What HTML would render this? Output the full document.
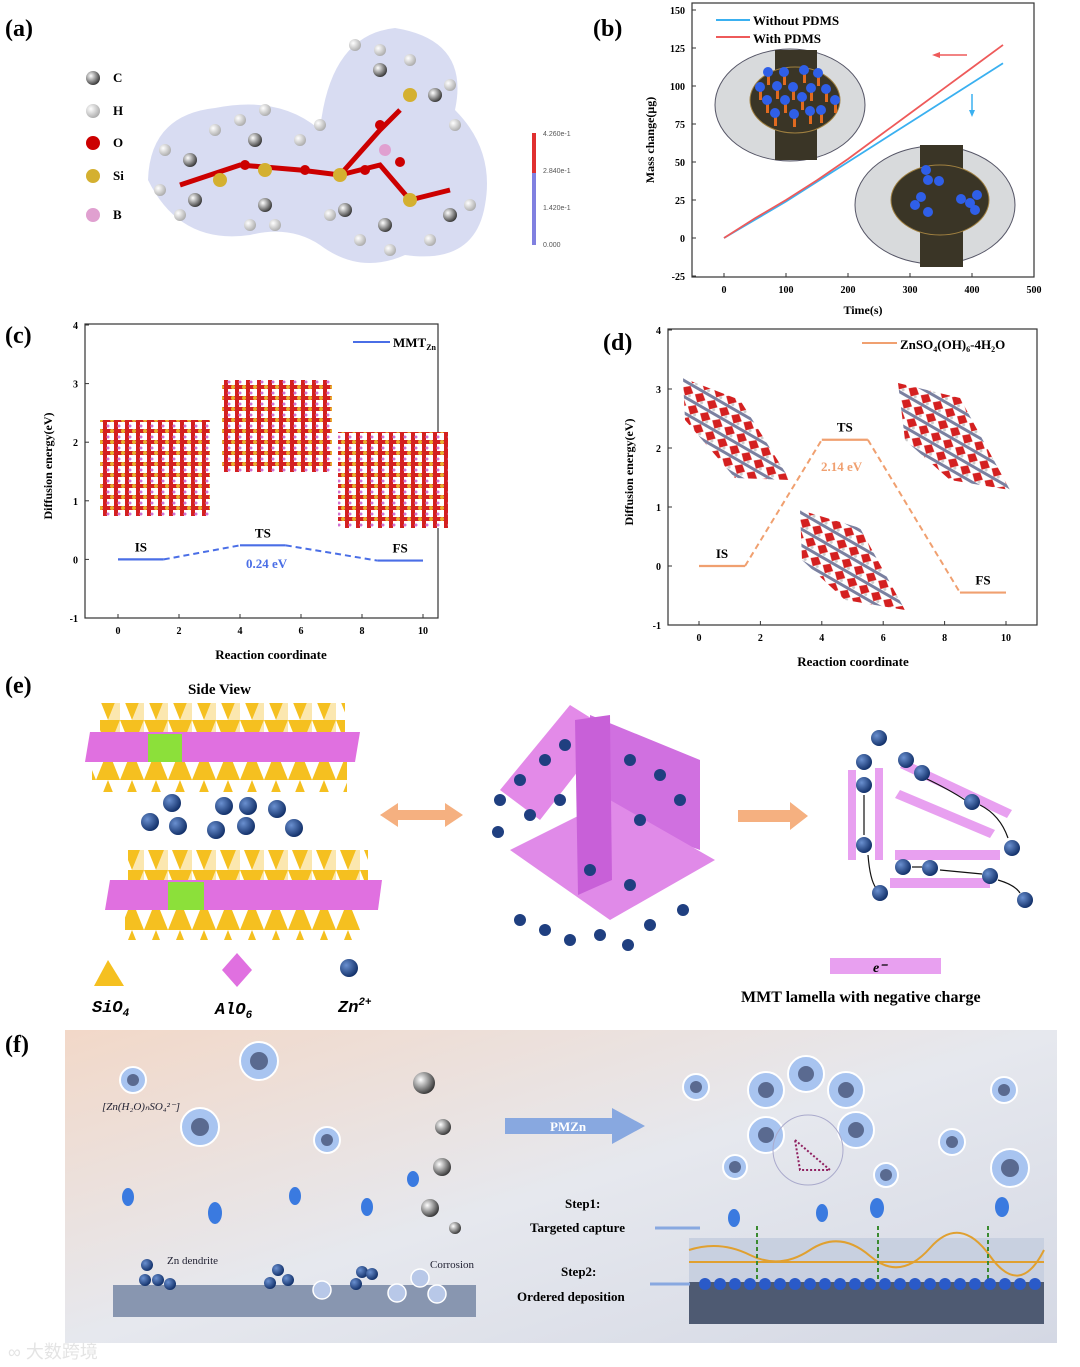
<!DOCTYPE html>
<html><head><meta charset="utf-8"><style>
html,body{margin:0;padding:0;background:#fff;}
svg{display:block;font-family:"Liberation Serif",serif;}
</style></head><body>
<svg id="fig" width="1080" height="1367" viewBox="0 0 1080 1367" xmlns="http://www.w3.org/2000/svg">
<defs>
<pattern id="mmt" width="11" height="11" patternUnits="userSpaceOnUse">
<rect width="11" height="11" fill="#fff"/>
<rect x="0" y="0" width="11" height="4" fill="#d42020"/>
<rect x="4" y="0" width="4" height="11" fill="#d42020"/>
<circle cx="2" cy="2" r="2" fill="#e8b030"/>
<circle cx="9" cy="8" r="1.5" fill="#d070d0"/>
</pattern>
<pattern id="zso" width="14" height="14" patternUnits="userSpaceOnUse" patternTransform="rotate(30)">
<rect width="14" height="14" fill="#fff"/>
<rect x="0" y="0" width="14" height="3" fill="#7a80a0"/>
<polygon points="7,3 13,8 7,14 1,8" fill="#d42020"/>
<circle cx="11" cy="12" r="1.5" fill="#ccc"/>
</pattern>
<pattern id="tri" width="24" height="30" patternUnits="userSpaceOnUse">
<polygon points="0,0 24,0 12,30" fill="#f5c020"/>
<polygon points="12,30 24,0 24,30" fill="#f8d060" opacity="0.5"/>
</pattern>
<pattern id="tri2" width="24" height="30" patternUnits="userSpaceOnUse">
<polygon points="12,0 24,30 0,30" fill="#f5c020"/>
</pattern>
<linearGradient id="fbg" x1="0" y1="0" x2="1" y2="1">
<stop offset="0" stop-color="#f2d8c8"/><stop offset="0.5" stop-color="#e6e8ee"/><stop offset="1" stop-color="#d4d8e4"/>
</linearGradient>
<radialGradient id="ball" cx="0.35" cy="0.35" r="0.7">
<stop offset="0" stop-color="#6a90d0"/><stop offset="1" stop-color="#0f2d66"/>
</radialGradient>
<radialGradient id="gball" cx="0.35" cy="0.35" r="0.7">
<stop offset="0" stop-color="#fff"/><stop offset="1" stop-color="#333"/>
</radialGradient>
<radialGradient id="hball" cx="0.35" cy="0.35" r="0.7">
<stop offset="0" stop-color="#fff"/><stop offset="1" stop-color="#aaa"/>
</radialGradient>
</defs>

<g font-weight="bold" font-size="24">
<text x="5" y="36">(a)</text>
<text x="593" y="36">(b)</text>
<text x="5" y="343">(c)</text>
<text x="603" y="350">(d)</text>
<text x="5" y="693">(e)</text>
<text x="5" y="1052">(f)</text>
</g>

<!-- panel a -->
<g>
<g font-size="13" font-weight="bold">
<circle cx="93" cy="78" r="7" fill="url(#gball)"/><text x="113" y="82">C</text>
<circle cx="93" cy="111" r="7" fill="url(#hball)"/><text x="113" y="115">H</text>
<circle cx="93" cy="143" r="7" fill="#c00"/><text x="113" y="147">O</text>
<circle cx="93" cy="176" r="7" fill="#d4b030"/><text x="113" y="180">Si</text>
<circle cx="93" cy="215" r="7" fill="#e0a0d0"/><text x="113" y="219">B</text>
</g>
<path d="M148,180 Q150,115 215,108 Q280,95 320,130 Q330,35 395,28 Q470,40 455,110 Q495,150 485,205 Q475,265 405,255 Q360,275 320,245 Q290,225 250,235 Q180,245 148,180Z" fill="#b8c0e8" opacity="0.55"/>
<path d="M180,185 L240,165 L300,170 L340,175 L380,130 L400,110 M340,175 L380,165 L410,200 L450,190" stroke="#c00" stroke-width="5" fill="none"/>
<g fill="url(#hball)"><circle cx="165" cy="150" r="6"/><circle cx="160" cy="190" r="6"/><circle cx="180" cy="215" r="6"/><circle cx="215" cy="130" r="6"/><circle cx="240" cy="120" r="6"/><circle cx="265" cy="110" r="6"/><circle cx="300" cy="140" r="6"/><circle cx="250" cy="225" r="6"/><circle cx="275" cy="225" r="6"/><circle cx="355" cy="45" r="6"/><circle cx="380" cy="50" r="6"/><circle cx="410" cy="60" r="6"/><circle cx="450" cy="85" r="6"/><circle cx="455" cy="125" r="6"/><circle cx="360" cy="240" r="6"/><circle cx="390" cy="250" r="6"/><circle cx="430" cy="240" r="6"/><circle cx="470" cy="205" r="6"/><circle cx="330" cy="215" r="6"/><circle cx="320" cy="125" r="6"/></g>
<g fill="url(#gball)"><circle cx="190" cy="160" r="7"/><circle cx="195" cy="200" r="7"/><circle cx="255" cy="140" r="7"/><circle cx="265" cy="205" r="7"/><circle cx="380" cy="70" r="7"/><circle cx="435" cy="95" r="7"/><circle cx="385" cy="225" r="7"/><circle cx="450" cy="215" r="7"/><circle cx="345" cy="210" r="7"/></g>
<g fill="#d4b030"><circle cx="220" cy="180" r="7"/><circle cx="265" cy="170" r="7"/><circle cx="340" cy="175" r="7"/><circle cx="410" cy="95" r="7"/><circle cx="410" cy="200" r="7"/></g>
<g fill="#c00"><circle cx="245" cy="165" r="5"/><circle cx="305" cy="170" r="5"/><circle cx="365" cy="170" r="5"/><circle cx="380" cy="125" r="5"/><circle cx="400" cy="162" r="5"/></g>
<circle cx="385" cy="150" r="6" fill="#e0a0d0"/>
<rect x="532" y="133" width="4" height="112" fill="#8080e0"/>
<rect x="532" y="133" width="4" height="40" fill="#e03030"/>
<g font-size="7" font-family="Liberation Sans,sans-serif" fill="#555"><text x="543" y="136">4.260e-1</text><text x="543" y="173">2.840e-1</text><text x="543" y="210">1.420e-1</text><text x="543" y="247">0.000</text></g>
</g>

<!-- panel b -->
<g id="pb">
<rect x="692" y="3" width="342" height="274" fill="none" stroke="#333" stroke-width="1.2"/>
<text transform="translate(654,140) rotate(-90)" text-anchor="middle" font-size="12" font-weight="bold">Mass change(μg)</text>
<text x="863" y="314" text-anchor="middle" font-size="12" font-weight="bold">Time(s)</text>
<line x1="716" y1="20" x2="750" y2="20" stroke="#3ab0f0" stroke-width="2"/>
<text x="753" y="25" font-size="13" font-weight="bold">Without PDMS</text>
<line x1="716" y1="37" x2="750" y2="37" stroke="#ee5a5a" stroke-width="2"/>
<text x="753" y="43" font-size="13" font-weight="bold">With PDMS</text>
<g>
<ellipse cx="790" cy="105" rx="75" ry="56" fill="#d8dadc" stroke="#556" />
<rect x="775" y="50" width="42" height="110" fill="#3a3526"/>
<ellipse cx="795" cy="100" rx="45" ry="33" fill="#3a3526" stroke="#a08040"/>
<g fill="#e06a20"><rect x="767" y="75" width="3" height="10"/><rect x="783" y="75" width="3" height="10"/><rect x="803" y="73" width="3" height="10"/><rect x="817" y="76" width="3" height="10"/><rect x="759" y="90" width="3" height="10"/><rect x="776" y="89" width="3" height="10"/><rect x="792" y="90" width="3" height="10"/><rect x="810" y="91" width="3" height="10"/><rect x="825" y="92" width="3" height="10"/><rect x="766" y="103" width="3" height="10"/><rect x="784" y="103" width="3" height="10"/><rect x="801" y="100" width="3" height="10"/><rect x="834" y="103" width="3" height="10"/><rect x="774" y="116" width="3" height="10"/><rect x="793" y="117" width="3" height="10"/><rect x="809" y="114" width="3" height="10"/><rect x="820" y="113" width="3" height="10"/></g>
<g fill="#2f5fe8"><circle cx="768" cy="72" r="5"/><circle cx="784" cy="72" r="5"/><circle cx="804" cy="70" r="5"/><circle cx="818" cy="73" r="5"/><circle cx="760" cy="87" r="5"/><circle cx="777" cy="86" r="5"/><circle cx="793" cy="87" r="5"/><circle cx="811" cy="88" r="5"/><circle cx="826" cy="89" r="5"/><circle cx="767" cy="100" r="5"/><circle cx="785" cy="100" r="5"/><circle cx="802" cy="97" r="5"/><circle cx="835" cy="100" r="5"/><circle cx="775" cy="113" r="5"/><circle cx="794" cy="114" r="5"/><circle cx="810" cy="111" r="5"/><circle cx="821" cy="110" r="5"/></g>
</g>
<g>
<ellipse cx="935" cy="205" rx="80" ry="59" fill="#d8dadc" stroke="#556"/>
<rect x="920" y="145" width="43" height="122" fill="#3a3526"/>
<ellipse cx="940" cy="200" rx="49" ry="35" fill="#3a3526" stroke="#a08040"/>
<g fill="#2f5fe8"><circle cx="926" cy="170" r="5"/><circle cx="928" cy="180" r="5"/><circle cx="939" cy="181" r="5"/><circle cx="915" cy="205" r="5"/><circle cx="921" cy="197" r="5"/><circle cx="928" cy="212" r="5"/><circle cx="961" cy="199" r="5"/><circle cx="970" cy="203" r="5"/><circle cx="977" cy="195" r="5"/><circle cx="975" cy="210" r="5"/></g>
</g>
<line x1="967" y1="55" x2="935" y2="55" stroke="#ee5a5a" stroke-width="1.5"/><polygon points="932,55 940,52 940,58" fill="#ee5a5a"/>
<line x1="972" y1="94" x2="972" y2="114" stroke="#3ab0f0" stroke-width="1.5"/><polygon points="972,117 969,110 975,110" fill="#3ab0f0"/>
</g>

<!-- panel c -->
<g id="pc">
<rect x="85" y="324" width="353" height="294" fill="none" stroke="#333" stroke-width="1.2"/>
<text transform="translate(52,466) rotate(-90)" text-anchor="middle" font-size="12" font-weight="bold">Diffusion energy(eV)</text>
<text x="271" y="659" text-anchor="middle" font-size="13" font-weight="bold">Reaction coordinate</text>
<line x1="353" y1="342" x2="390" y2="342" stroke="#4a6ee6" stroke-width="2"/>
<text x="393" y="347" font-size="13" font-weight="bold">MMT<tspan font-size="8" dy="3">Zn</tspan></text>
<rect x="100" y="420" width="110" height="96" fill="url(#mmt)"/>
<rect x="222" y="380" width="110" height="92" fill="url(#mmt)"/>
<rect x="338" y="432" width="110" height="96" fill="url(#mmt)"/>
<text x="246" y="568" fill="#4a6ee6" font-size="13" font-weight="bold">0.24 eV</text>
</g>

<!-- panel d -->
<g id="pd">
<rect x="668" y="329" width="369" height="296" fill="none" stroke="#333" stroke-width="1.2"/>
<text transform="translate(633,472) rotate(-90)" text-anchor="middle" font-size="12" font-weight="bold">Diffusion energy(eV)</text>
<text x="853" y="666" text-anchor="middle" font-size="13" font-weight="bold">Reaction coordinate</text>
<line x1="862" y1="343" x2="897" y2="343" stroke="#f0a070" stroke-width="2"/>
<text x="900" y="349" font-size="13" font-weight="bold">ZnSO<tspan font-size="8" dy="3">4</tspan><tspan dy="-3">(OH)</tspan><tspan font-size="8" dy="3">6</tspan><tspan dy="-3">-4H</tspan><tspan font-size="8" dy="3">2</tspan><tspan dy="-3">O</tspan></text>
<polygon points="683,378 740,400 790,480 735,478 685,420" fill="url(#zso)"/>
<polygon points="898,383 960,398 1010,490 950,480 905,440" fill="url(#zso)"/>
<polygon points="800,510 860,528 905,610 845,600 802,560" fill="url(#zso)"/>
<text x="821" y="471" fill="#f0a070" font-size="13" font-weight="bold">2.14 eV</text>
</g>

<!-- panel e -->
<g>
<text x="188" y="694" font-size="15" font-weight="bold">Side View</text>
<g>
<rect x="100" y="703" width="245" height="30" fill="url(#tri)"/>
<polygon points="90,732 360,732 355,762 85,762" fill="#e070e0"/>
<rect x="148" y="734" width="34" height="28" fill="#8ce03a"/>
<rect x="92" y="762" width="255" height="30" fill="url(#tri2)"/>
</g>
<g>
<rect x="128" y="850" width="240" height="30" fill="url(#tri)"/>
<polygon points="110,880 382,880 378,910 105,910" fill="#e070e0"/>
<rect x="168" y="882" width="36" height="28" fill="#8ce03a"/>
<rect x="125" y="910" width="235" height="30" fill="url(#tri2)"/>
</g>
<g fill="url(#ball)">
<circle cx="172" cy="803" r="9"/><circle cx="224" cy="806" r="9"/><circle cx="248" cy="806" r="9"/><circle cx="277" cy="809" r="9"/><circle cx="150" cy="822" r="9"/><circle cx="178" cy="826" r="9"/><circle cx="216" cy="830" r="9"/><circle cx="246" cy="826" r="9"/><circle cx="294" cy="828" r="9"/>
</g>
<polygon points="380,815 398,803 398,810 445,810 445,803 463,815 445,827 445,820 398,820 398,827" fill="#f5b080"/>
<g>
<polygon points="500,790 570,705 610,730 540,820" fill="#e38ae8"/>
<polygon points="590,715 700,760 700,850 590,810" fill="#d070e0"/>
<polygon points="510,850 610,800 715,860 610,920" fill="#e08ae8"/>
<polygon points="575,720 610,715 612,880 578,895" fill="#c860d8"/>
<g fill="#1f3f80"><circle cx="520" cy="780" r="6"/><circle cx="545" cy="760" r="6"/><circle cx="565" cy="745" r="6"/><circle cx="530" cy="815" r="6"/><circle cx="560" cy="800" r="6"/><circle cx="630" cy="760" r="6"/><circle cx="660" cy="775" r="6"/><circle cx="680" cy="800" r="6"/><circle cx="640" cy="820" r="6"/><circle cx="520" cy="920" r="6"/><circle cx="545" cy="930" r="6"/><circle cx="570" cy="940" r="6"/><circle cx="600" cy="935" r="6"/><circle cx="628" cy="945" r="6"/><circle cx="650" cy="925" r="6"/><circle cx="683" cy="910" r="6"/><circle cx="590" cy="870" r="6"/><circle cx="630" cy="885" r="6"/><circle cx="500" cy="800" r="6"/><circle cx="498" cy="832" r="6"/></g>
</g>
<polygon points="738,810 790,810 790,802 808,816 790,830 790,822 738,822" fill="#f5b080"/>
<g>
<rect x="848" y="770" width="8" height="90" fill="#e8a0f0"/><rect x="875" y="768" width="8" height="92" fill="#e8a0f0"/>
<polygon points="905,760 1012,810 1007,818 900,768" fill="#e8a0f0"/>
<polygon points="900,790 995,830 990,838 895,798" fill="#e8a0f0"/>
<rect x="895" y="850" width="105" height="10" fill="#e8a0f0"/><rect x="890" y="878" width="100" height="10" fill="#e8a0f0"/>
<g stroke="#111" stroke-width="1.2" fill="none"><line x1="864" y1="795" x2="864" y2="835"/><path d="M925,778 Q950,790 965,800"/><path d="M980,805 Q1000,815 1008,838"/><path d="M912,867 L922,867"/><path d="M940,870 L982,874"/><path d="M998,880 Q1015,885 1020,893"/><path d="M868,855 Q870,880 876,888"/></g>
<g fill="url(#ball)"><circle cx="879" cy="738" r="8"/><circle cx="864" cy="762" r="8"/><circle cx="864" cy="785" r="8"/><circle cx="864" cy="845" r="8"/><circle cx="880" cy="893" r="8"/><circle cx="906" cy="760" r="8"/><circle cx="922" cy="773" r="8"/><circle cx="972" cy="802" r="8"/><circle cx="1012" cy="848" r="8"/><circle cx="903" cy="867" r="8"/><circle cx="930" cy="868" r="8"/><circle cx="990" cy="876" r="8"/><circle cx="1025" cy="900" r="8"/></g>
<rect x="830" y="958" width="111" height="16" fill="#e8a0f0"/>
<text x="873" y="972" font-size="14" font-style="italic" font-weight="bold">e⁻</text>
<text x="741" y="1002" font-size="16" font-weight="bold">MMT lamella with negative charge</text>
</g>
<g>
<polygon points="108,960 94,986 124,986" fill="#f5c020"/>
<polygon points="237,953 252,970 237,987 222,970" fill="#e070e0"/>
<circle cx="349" cy="968" r="9" fill="url(#ball)"/>
<g font-size="17" font-weight="bold" font-style="italic" font-family="Liberation Mono,monospace">
<text x="92" y="1012">SiO<tspan font-size="11" dy="4">4</tspan></text>
<text x="215" y="1014">AlO<tspan font-size="11" dy="4">6</tspan></text>
<text x="338" y="1012">Zn<tspan font-size="11" dy="-7">2+</tspan></text>
</g>
</g>
</g>

<!-- panel f -->
<g>
<rect x="65" y="1030" width="992" height="313" fill="url(#fbg)"/>
<rect x="113" y="1285" width="363" height="32" fill="#8896b0"/>
<rect x="689" y="1238" width="355" height="86" fill="#4e5a72"/>
<rect x="689" y="1238" width="355" height="44" fill="#c8d0e0"/>
<path d="M689,1250 Q720,1240 750,1255 T810,1250 T870,1256 T930,1248 T990,1256 T1044,1250" stroke="#e0a030" stroke-width="2" fill="none"/>
<line x1="689" y1="1262" x2="1044" y2="1262" stroke="#e0a030" stroke-width="2"/>
<g stroke="#3a8a30" stroke-width="2" stroke-dasharray="4,3"><line x1="757" y1="1226" x2="757" y2="1280"/><line x1="878" y1="1226" x2="878" y2="1280"/><line x1="988" y1="1226" x2="988" y2="1280"/></g>
<g fill="#2a5ac8"><circle cx="705" cy="1284" r="6"/><circle cx="720" cy="1284" r="6"/><circle cx="735" cy="1284" r="6"/><circle cx="750" cy="1284" r="6"/><circle cx="765" cy="1284" r="6"/><circle cx="780" cy="1284" r="6"/><circle cx="795" cy="1284" r="6"/><circle cx="810" cy="1284" r="6"/><circle cx="825" cy="1284" r="6"/><circle cx="840" cy="1284" r="6"/><circle cx="855" cy="1284" r="6"/><circle cx="870" cy="1284" r="6"/><circle cx="885" cy="1284" r="6"/><circle cx="900" cy="1284" r="6"/><circle cx="915" cy="1284" r="6"/><circle cx="930" cy="1284" r="6"/><circle cx="945" cy="1284" r="6"/><circle cx="960" cy="1284" r="6"/><circle cx="975" cy="1284" r="6"/><circle cx="990" cy="1284" r="6"/><circle cx="1005" cy="1284" r="6"/><circle cx="1020" cy="1284" r="6"/><circle cx="1035" cy="1284" r="6"/></g>
<g fill="#a8c4f0" stroke="#fff" stroke-width="2"><circle cx="133" cy="1080" r="13"/><circle cx="259" cy="1061" r="19"/><circle cx="200" cy="1127" r="19"/><circle cx="327" cy="1140" r="13"/><circle cx="696" cy="1087" r="13"/><circle cx="1004" cy="1090" r="13"/><circle cx="1010" cy="1168" r="19"/><circle cx="952" cy="1142" r="13"/><circle cx="766" cy="1090" r="18"/><circle cx="806" cy="1074" r="18"/><circle cx="846" cy="1090" r="18"/><circle cx="766" cy="1135" r="18"/><circle cx="856" cy="1130" r="18"/><circle cx="886" cy="1175" r="12"/><circle cx="735" cy="1167" r="12"/></g>
<g fill="#5a6a90"><circle cx="133" cy="1080" r="6"/><circle cx="259" cy="1061" r="9"/><circle cx="200" cy="1127" r="9"/><circle cx="327" cy="1140" r="6"/><circle cx="696" cy="1087" r="6"/><circle cx="1004" cy="1090" r="6"/><circle cx="1010" cy="1168" r="9"/><circle cx="952" cy="1142" r="6"/><circle cx="766" cy="1090" r="8"/><circle cx="806" cy="1074" r="8"/><circle cx="846" cy="1090" r="8"/><circle cx="766" cy="1135" r="8"/><circle cx="856" cy="1130" r="8"/><circle cx="886" cy="1175" r="6"/><circle cx="735" cy="1167" r="6"/></g>
<circle cx="808" cy="1150" r="35" fill="none" stroke="#aac" />
<path d="M795,1140 L830,1170 L800,1170 Z" fill="none" stroke="#902060" stroke-width="2" stroke-dasharray="2,2"/>
<g fill="url(#gball)"><circle cx="424" cy="1083" r="11"/><circle cx="443" cy="1127" r="8"/><circle cx="442" cy="1167" r="9"/><circle cx="430" cy="1208" r="9"/><circle cx="455" cy="1228" r="6"/></g>
<g fill="#3a7ae0"><ellipse cx="128" cy="1197" rx="6" ry="9"/><ellipse cx="215" cy="1213" rx="7" ry="11"/><ellipse cx="295" cy="1196" rx="6" ry="9"/><ellipse cx="367" cy="1207" rx="6" ry="9"/><ellipse cx="413" cy="1179" rx="6" ry="8"/><ellipse cx="734" cy="1218" rx="6" ry="9"/><ellipse cx="822" cy="1213" rx="6" ry="9"/><ellipse cx="877" cy="1208" rx="7" ry="10"/><ellipse cx="1002" cy="1207" rx="7" ry="10"/></g>
<g fill="url(#ball)"><circle cx="147" cy="1265" r="6"/><circle cx="145" cy="1280" r="6"/><circle cx="158" cy="1280" r="6"/><circle cx="170" cy="1284" r="6"/><circle cx="278" cy="1270" r="6"/><circle cx="288" cy="1280" r="6"/><circle cx="270" cy="1283" r="6"/><circle cx="362" cy="1272" r="6"/><circle cx="372" cy="1274" r="6"/><circle cx="356" cy="1284" r="6"/></g>
<g fill="#b8c8e8" stroke="#fff" stroke-width="1.5"><circle cx="322" cy="1290" r="9"/><circle cx="397" cy="1293" r="9"/><circle cx="420" cy="1278" r="9"/><circle cx="437" cy="1294" r="9"/></g>
<polygon points="505,1118 612,1118 612,1108 645,1126 612,1144 612,1134 505,1134" fill="#88a8e0"/>
<text x="550" y="1131" font-size="13" font-weight="bold" fill="#fff">PMZn</text>
<g font-size="13" font-weight="bold">
<text x="565" y="1208">Step1:</text>
<text x="530" y="1232">Targeted capture</text>
<text x="561" y="1276">Step2:</text>
<text x="517" y="1301">Ordered deposition</text>
</g>
<line x1="655" y1="1228" x2="700" y2="1228" stroke="#88a8e0" stroke-width="3"/>
<line x1="650" y1="1284" x2="690" y2="1284" stroke="#88a8e0" stroke-width="3"/>
<g font-size="11" fill="#223">
<text x="167" y="1264">Zn dendrite</text>
<text x="430" y="1268">Corrosion</text>
<text x="102" y="1110" font-style="italic">[Zn(H₂O)ₙSO₄²⁻]</text>
</g>
<text x="8" y="1358" font-size="18" fill="#e4e4e4" font-family="Liberation Sans,'Noto Sans CJK SC',sans-serif">∞ 大数跨境</text>
</g>
</svg>
<script>
const NS='http://www.w3.org/2000/svg';
function mk(parent,tag,attrs){const e=document.createElementNS(NS,tag);for(const k in attrs)e.setAttribute(k,attrs[k]);parent.appendChild(e);return e;}

// ---- panel b data ----
const bTime=[0,50,100,150,200,250,300,350,400,450];
const bWithout=[0,12,24,37,50,63,76,89,102,115];
const bWith=[0,13,25,38,52,67,82,97,112,127];
const bXTicks=[0,100,200,300,400,500];
const bYTicks=[-25,0,25,50,75,100,125,150];

// ---- panel c data ----
const cStates=['IS','TS','FS'];
const cStart=[0,4,8.5];
const cEnd=[1.5,5.5,10];
const cEnergy=[0,0.24,-0.02];
// ---- panel d data ----
const dStates=['IS','TS','FS'];
const dStart=[0,4,8.5];
const dEnd=[1.5,5.5,10];
const dEnergy=[0,2.14,-0.45];
const rxTicks=[0,2,4,6,8,10];
const eYTicks=[-1,0,1,2,3,4];

function axes(g,xs,ys,xt,yt,name){
  const x0=xs.range, y0=ys.range;
  xt.forEach(v=>{
    const X=xs(v);
    const t=mk(g,'line',{x1:X,x2:X,y1:y0[0],y2:y0[0]-4,stroke:'#333'});
    
    
    const l=mk(g,'text',{x:X,y:y0[0]+16,'text-anchor':'middle','font-size':10,'font-weight':'bold'});
    l.textContent=v;
    
    
  });
  yt.forEach(v=>{
    const Y=ys(v);
    const t=mk(g,'line',{x1:x0[0],x2:x0[0]+4,y1:Y,y2:Y,stroke:'#333'});
    
    
    const l=mk(g,'text',{x:x0[0]-7,y:Y+4,'text-anchor':'end','font-size':10,'font-weight':'bold'});
    l.textContent=v;
    
    
  });
}
function lin(d0,d1,r0,r1){const f=v=>r0+(v-d0)/(d1-d0)*(r1-r0);return f;}

(function(){
  const g=document.getElementById('pb');
  const xs=lin(0,500,724,1034); xs.range=[692,1034];
  const ys=lin(-25,150,276,10); ys.range=[277,3];
  axes(g,xs,ys,bXTicks,bYTicks,'b');
  const p1=mk(g,'polyline',{points:bTime.map((t,i)=>xs(t)+','+ys(bWithout[i])).join(' '),fill:'none',stroke:'#3ab0f0','stroke-width':1.8});
  
  
  const p2=mk(g,'polyline',{points:bTime.map((t,i)=>xs(t)+','+ys(bWith[i])).join(' '),fill:'none',stroke:'#ee5a5a','stroke-width':1.8});
  
  
})();

function energyPanel(id,states,st,en,E,color,xr,yr,name){
  const g=document.getElementById(id);
  const xs=lin(0,10,xr[0],xr[1]); xs.range=[xr[2],xr[3]];
  const ys=lin(-1,4,yr[0],yr[1]); ys.range=[yr[0],yr[1]];
  axes(g,xs,ys,rxTicks,eYTicks,name);
  for(let i=0;i<states.length;i++){
    const l=mk(g,'line',{x1:xs(st[i]),x2:xs(en[i]),y1:ys(E[i]),y2:ys(E[i]),stroke:color,'stroke-width':2.2});
    
    
    const t=mk(g,'text',{x:(xs(st[i])+xs(en[i]))/2,y:ys(E[i])-8,'text-anchor':'middle','font-size':13,'font-weight':'bold'});
    t.textContent=states[i];
    
    
    if(i<states.length-1){
      const c=mk(g,'line',{x1:xs(en[i]),x2:xs(st[i+1]),y1:ys(E[i]),y2:ys(E[i+1]),stroke:color,'stroke-width':2,'stroke-dasharray':'6,4'});
      
      
    }
  }
}
energyPanel('pc',cStates,cStart,cEnd,cEnergy,'#4a6ee6',[118,423,85,438],[618,325],'c');
energyPanel('pd',dStates,dStart,dEnd,dEnergy,'#f0a070',[699,1006,668,1037],[625,330],'d');
</script>
</body></html>
